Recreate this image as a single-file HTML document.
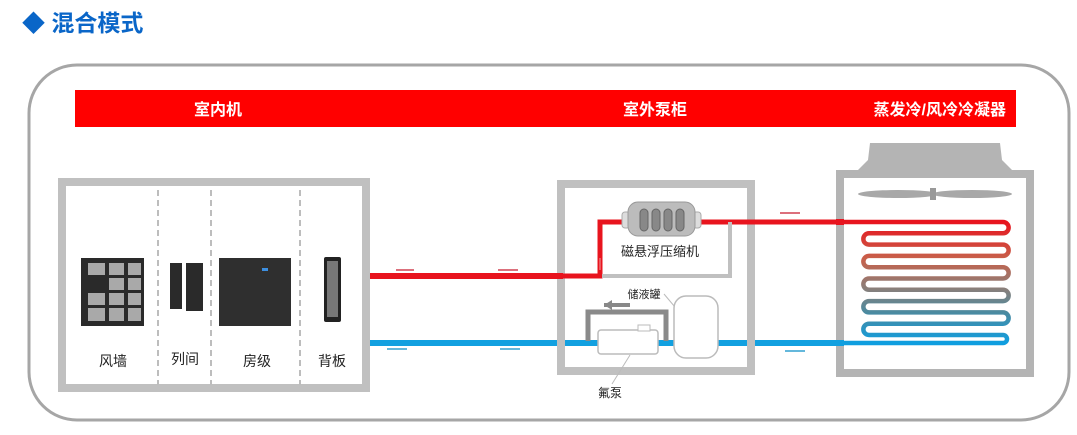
<!DOCTYPE html>
<html><head><meta charset="utf-8"><style>
body{margin:0;background:#fff;width:1077px;height:430px;overflow:hidden}
text{font-family:"Liberation Sans","Noto Sans CJK SC",sans-serif}
</style></head><body>
<svg width="1077" height="430" viewBox="0 0 1077 430" xmlns="http://www.w3.org/2000/svg">
<defs>
<linearGradient id="cg" x1="0" y1="0" x2="0" y2="1">
<stop offset="0" stop-color="#e8141e"/><stop offset="0.3" stop-color="#c8604a"/><stop offset="0.55" stop-color="#8a7f7a"/><stop offset="0.75" stop-color="#4a8aa0"/><stop offset="1" stop-color="#0f9ee0"/>
</linearGradient>
</defs>
<!-- title -->
<text x="22" y="31" font-size="23" font-weight="bold" fill="#0a66c8">◆ 混合模式</text>
<!-- outer rounded -->
<rect x="29" y="65" width="1040" height="355" rx="48" fill="none" stroke="#a6a6a6" stroke-width="3"/>
<!-- banner -->
<rect x="75" y="90" width="941" height="37" fill="#ff0000"/>
<text x="218" y="115" font-size="16" font-weight="bold" fill="#fff" text-anchor="middle">室内机</text>
<text x="655" y="115" font-size="16" font-weight="bold" fill="#fff" text-anchor="middle">室外泵柜</text>
<text x="1006" y="115" font-size="16" font-weight="bold" fill="#fff" text-anchor="end">蒸发冷/风冷冷凝器</text>

<!-- pipes -->
<rect x="370" y="273" width="190" height="6" fill="#e8141e"/>
<rect x="370" y="340" width="470" height="6" fill="#12a0e0"/>
<path d="M396 270 L414 270" stroke="#d04050" stroke-width="1.5"/>
<path d="M498 270 L518 270" stroke="#d04050" stroke-width="1.5"/>
<path d="M387 349 L407 349" stroke="#30a0d0" stroke-width="1.5"/>
<path d="M500 349 L520 349" stroke="#30a0d0" stroke-width="1.5"/>
<path d="M780 213 L800 213" stroke="#d04050" stroke-width="1.5"/>
<path d="M785 351 L805 351" stroke="#30a0d0" stroke-width="1.5"/>

<!-- indoor box -->
<rect x="62" y="182" width="304" height="206" fill="#fff" stroke="#c0c0c0" stroke-width="8"/>
<g stroke="#bdbdbd" stroke-width="2" stroke-dasharray="6,4">
<line x1="158" y1="190" x2="158" y2="385"/><line x1="211" y1="190" x2="211" y2="385"/><line x1="300" y1="190" x2="300" y2="385"/>
</g>
<!-- units -->
<rect x="81" y="258" width="63" height="68" fill="#2a2a2a"/>
<g fill="#a9a9a9">
<rect x="88" y="263" width="17" height="12"/><rect x="109" y="263" width="15" height="12"/><rect x="128" y="263" width="13" height="12"/>
<rect x="109" y="278" width="15" height="12"/><rect x="128" y="278" width="13" height="12"/>
<rect x="88" y="293" width="17" height="12"/><rect x="109" y="293" width="15" height="12"/><rect x="128" y="293" width="13" height="12"/>
<rect x="88" y="308" width="17" height="13"/><rect x="109" y="308" width="15" height="13"/><rect x="128" y="308" width="13" height="13"/>
</g>
<rect x="170" y="263" width="12" height="46" fill="#2a2a2a"/>
<rect x="186" y="263" width="17" height="48" fill="#2a2a2a"/>
<rect x="219" y="258" width="72" height="68" fill="#2f2f2f"/>
<rect x="262" y="268" width="6" height="3" fill="#3d8fe0"/>
<rect x="324" y="257" width="17" height="65" rx="2" fill="#222"/>
<rect x="327" y="261" width="11" height="56" fill="#777"/>
<g font-size="14" fill="#222" text-anchor="middle">
<text x="113" y="366">风墙</text><text x="185" y="364">列间</text><text x="257" y="366">房级</text><text x="332" y="366">背板</text>
</g>

<!-- pump cabinet -->
<rect x="561" y="184" width="190" height="187" fill="none" stroke="#c0c0c0" stroke-width="8"/>
<rect x="557" y="273" width="6" height="6" fill="#e8141e"/>
<path d="M560 276 L600 276 L600 222 L626 222" fill="none" stroke="#e8141e" stroke-width="5"/>
<path d="M700 222 L730 222" stroke="#e8141e" stroke-width="5"/>
<path d="M730 222 L840 222" stroke="#e8141e" stroke-width="5"/>
<path d="M602 276 L730 276 L730 222" fill="none" stroke="#c0c0c0" stroke-width="4"/>
<path d="M600 270 L600 258" stroke="#f0a0a0" stroke-width="1"/>
<!-- compressor -->
<rect x="622" y="212" width="8" height="16" rx="3" fill="#ddd" stroke="#aaa"/>
<rect x="693" y="212" width="8" height="16" rx="3" fill="#ddd" stroke="#aaa"/>
<rect x="628" y="202" width="67" height="34" rx="10" fill="#bcbcbc" stroke="#999"/>
<g fill="#888" stroke="#666"><rect x="640" y="209" width="8" height="22" rx="4"/><rect x="652" y="209" width="8" height="22" rx="4"/><rect x="664" y="209" width="8" height="22" rx="4"/><rect x="676" y="209" width="8" height="22" rx="4"/></g>
<text x="660" y="256" font-size="13" fill="#222" text-anchor="middle">磁悬浮压缩机</text>
<!-- tank -->
<text x="644" y="298" font-size="11" fill="#222" text-anchor="middle">储液罐</text>
<line x1="664" y1="294" x2="680" y2="313" stroke="#bbb"/>
<rect x="674" y="296" width="44" height="62" rx="12" fill="#fff" stroke="#bbb" stroke-width="1.5"/>
<!-- pump & gray bypass -->
<path d="M588 341 L588 312 L666 312 L666 341" fill="none" stroke="#8a8a8a" stroke-width="5"/>
<path d="M604 305 L630 305" stroke="#888" stroke-width="4"/>
<path d="M604 305 L612 300 L612 310 Z" fill="#888"/>
<rect x="598" y="330" width="60" height="24" rx="3" fill="#fff" stroke="#bbb" stroke-width="1.5"/>
<rect x="638" y="325" width="12" height="6" fill="#fff" stroke="#bbb"/>
<text x="610" y="397" font-size="12" fill="#222" text-anchor="middle">氟泵</text>
<line x1="612" y1="384" x2="630" y2="355" stroke="#bbb"/>

<!-- condenser -->
<path d="M870 143 L1000 143 L1002 160 L1012 170 L858 170 L868 160 Z" fill="#b4b4b4"/>
<rect x="840" y="174" width="190" height="199" fill="#fff" stroke="#b4b4b4" stroke-width="8"/>
<ellipse cx="898" cy="194" rx="40" ry="4" fill="#a8a8a8"/>
<ellipse cx="972" cy="194" rx="40" ry="4" fill="#a8a8a8"/>
<rect x="930" y="188" width="6" height="12" fill="#999"/>
<rect x="836" y="219" width="8" height="6" fill="#e8141e"/>
<rect x="836" y="340" width="8" height="6" fill="#12a0e0"/>
<path d="M840 222 L1003 222 A5.6 5.6 0 0 1 1003 233.3 L869 233.3 A5.6 5.6 0 0 0 869 244.6 L1003 244.6 A5.6 5.6 0 0 1 1003 255.9 L869 255.9 A5.6 5.6 0 0 0 869 267.2 L1003 267.2 A5.6 5.6 0 0 1 1003 278.5 L869 278.5 A5.6 5.6 0 0 0 869 289.8 L1003 289.8 A5.6 5.6 0 0 1 1003 301.1 L869 301.1 A5.6 5.6 0 0 0 869 312.4 L1003 312.4 A5.6 5.6 0 0 1 1003 323.7 L869 323.7 A5.6 5.6 0 0 0 869 335 L1003 335 A4 4 0 0 1 1003 343 L840 343" fill="none" stroke="url(#cg)" stroke-width="4.5"/>
</svg>
</body></html>
